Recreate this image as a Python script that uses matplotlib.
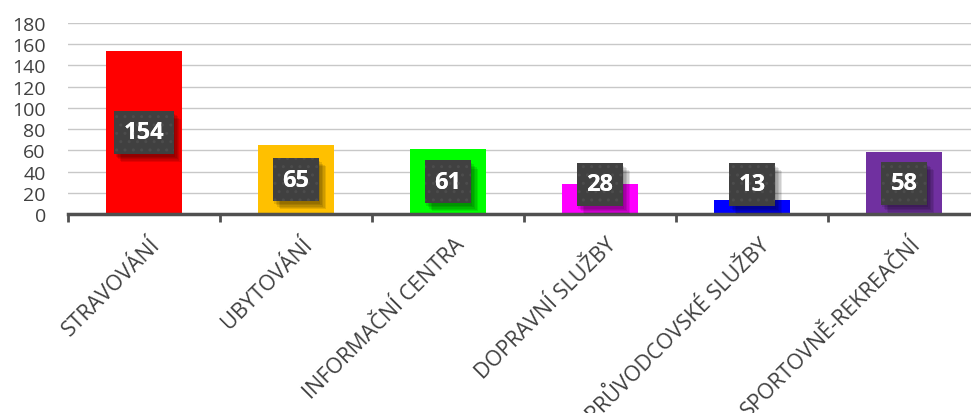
import matplotlib
matplotlib.use("Agg")
import matplotlib.pyplot as plt
import matplotlib.patheffects as pe
import matplotlib.transforms as mtransforms

categories = ["STRAVOVÁNÍ", "UBYTOVÁNÍ", "INFORMAČNÍ CENTRA", "DOPRAVNÍ SLUŽBY",
              "PRŮVODCOVSKÉ SLUŽBY", "SPORTOVNĚ-REKREAČNÍ"]
values = [154, 65, 61, 28, 13, 58]
colors = ["#FF0000", "#FFC000", "#00FF00", "#FF00FF", "#0000FF", "#7030A0"]
yticks = [0, 20, 40, 60, 80, 100, 120, 140, 160, 180]

plt.rcParams['font.family'] = ['Open Sans', 'DejaVu Sans']

fig = plt.figure(figsize=(9.71, 4.14), dpi=100)
ax = fig.add_axes([68/971, (414-215)/414, (980-68)/971, (215-24)/414])

x = list(range(len(categories)))
ax.bar(x, values, width=0.5, color=colors, zorder=2)

ax.set_xlim(-0.5, len(categories) - 0.5)
ax.set_ylim(0, 180)
ax.set_yticks(yticks)
ax.set_yticklabels([str(v) for v in yticks], fontsize=14, color='#404040')
ax.tick_params(axis='y', length=0, pad=16)
ax.yaxis.grid(True, color='#c8c8c8', lw=1.0, zorder=0)
ax.set_axisbelow(True)

for s in ['top', 'right', 'left']:
    ax.spines[s].set_visible(False)
ax.spines['bottom'].set_color('#505050')
ax.spines['bottom'].set_linewidth(2.5)
ax.spines['bottom'].set_zorder(3)

ax.set_xticks([i - 0.5 for i in x] + [len(categories) - 0.5], minor=False)
ax.set_xticklabels([])
ax.tick_params(axis='x', length=6, width=2, color='#505050', direction='out')
ax.set_xticks(x, minor=True)
ax.set_xticklabels(categories, minor=True, rotation=45, ha='right', va='top',
                   rotation_mode='anchor', fontsize=15.5, color='#404040')
ax.tick_params(axis='x', which='minor', length=0, pad=14)
shift = mtransforms.ScaledTranslation(6/100, 0, fig.dpi_scale_trans)
for lab in ax.get_xticklabels(minor=True):
    lab.set_transform(lab.get_transform() + shift)

shadow = [pe.SimplePatchShadow(offset=(o, -o - 1), alpha=0.10, shadow_rgbFace='black')
          for o in (1, 2, 3, 4, 5)] + [pe.Normal()]
for xi, v in zip(x, values):
    ypos = max(v / 2, 28)
    t = ax.text(xi, ypos, str(v), ha='center', va='center', fontsize=17,
                fontweight='bold', color='white', zorder=5,
                bbox=dict(boxstyle='square,pad=0.4', fc='#404040', ec='none', lw=0))
    t.get_bbox_patch().set_path_effects(shadow)
    ax.text(xi, ypos, str(v), ha='center', va='center', fontsize=17,
            fontweight='bold', color='white', zorder=6,
            bbox=dict(boxstyle='square,pad=0.4', fc='none', ec='#4c4c4c',
                      lw=0, hatch='..'))

fig.savefig("out.png", dpi=100)
